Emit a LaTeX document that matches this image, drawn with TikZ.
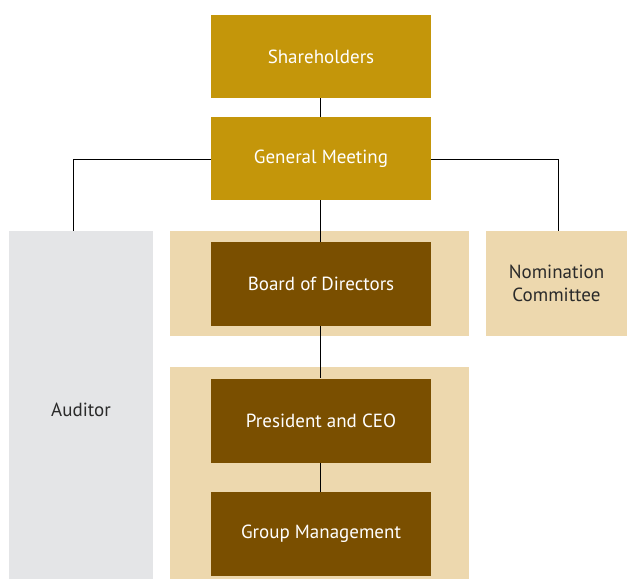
\documentclass[tikz,border=0pt]{standalone}
\usepackage{fontspec}
\setmainfont{PT Sans}
\definecolor{gold}{HTML}{C4960A}
\definecolor{brown}{HTML}{7A4F00}
\definecolor{beige}{HTML}{EDD8AE}
\definecolor{greyb}{HTML}{E4E5E7}
\definecolor{txt}{HTML}{2A2A2A}
\begin{document}
\begin{tikzpicture}[x=1pt,y=-1pt,
  topbox/.style={fill=gold,text=white,minimum width=220pt,minimum height=83pt,inner sep=0pt,font=\fontsize{19}{22}\selectfont},
  darkbox/.style={fill=brown,text=white,minimum width=220pt,minimum height=84pt,inner sep=0pt,font=\fontsize{19}{22}\selectfont},
  conn/.style={draw=black,line width=1pt}]
\useasboundingbox (0,0) rectangle (627,579);
% backgrounds
\fill[greyb] (9,231) rectangle (153,579);
\fill[beige] (170,231) rectangle (469,336);
\fill[beige] (170,367) rectangle (469,579);
\node[fill=beige,minimum width=141pt,minimum height=105pt,inner sep=0pt,text=txt,align=center,font=\fontsize{19}{23}\selectfont] (nom) at (556.5,283.5) {Nomination\\Committee};
\node[text=txt,font=\fontsize{19}{22}\selectfont] (aud) at (81,410) {Auditor};
\coordinate (audtop) at (73,231);
\coordinate (nomtop) at (558,231);
% boxes
\node[topbox] (sh) at (321,56.5) {Shareholders};
\node[topbox] (gm) at (321,158.5) {General Meeting};
\node[darkbox] (bd) at (321,284) {Board of Directors};
\node[darkbox] (pc) at (321,420.5) {President and CEO};
\node[darkbox] (gr) at (321,534) {Group Management};
% connectors
\draw[conn] (sh.south -| 320,0) -- (gm.north -| 320,0);
\draw[conn] (gm.south -| 320,0) -- (bd.north -| 320,0);
\draw[conn] (bd.south -| 320,0) -- (pc.north -| 320,0);
\draw[conn] (pc.south -| 320,0) -- (gr.north -| 320,0);
\draw[conn] (gm.west |- 0,159) -| (audtop);
\draw[conn] (gm.east |- 0,159) -| (nomtop);
\end{tikzpicture}
\end{document}
